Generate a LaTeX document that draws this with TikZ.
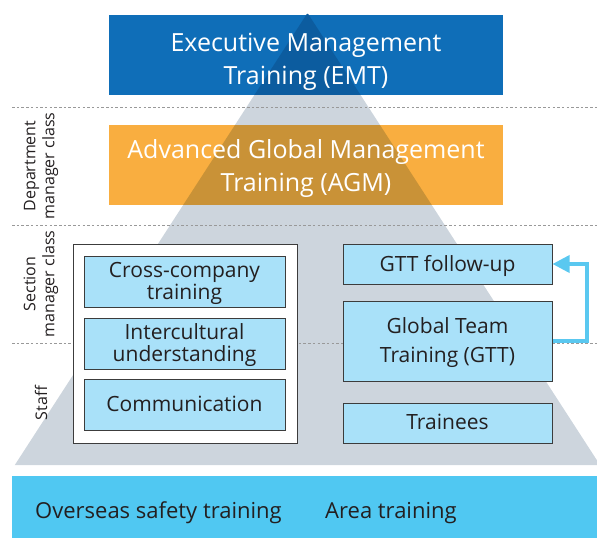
\documentclass[tikz,border=0pt]{standalone}
\usepackage{fontspec}
\setmainfont{Open Sans}
\usetikzlibrary{arrows.meta,positioning}

\begin{document}
\begin{tikzpicture}[x=1pt,y=-1pt,
	bigbox/.style={minimum width=394pt,minimum height=80pt,inner sep=0pt},
	bigtext/.style={text=white,align=center,font=\fontsize{25}{33}\selectfont},
	box/.style={draw=boxline,line width=1pt,fill=boxblue,text=textgray,align=center,
		minimum width=201pt,minimum height=51pt,inner sep=0pt,text depth=2pt,font=\fontsize{21}{22}\selectfont},
	rbox/.style={box,minimum width=209pt,minimum height=40pt},
	sidelabel/.style={rotate=90,align=center,text=textgray,font=\fontsize{16}{19}\selectfont},
	bandtext/.style={text=textgray,font=\fontsize{22}{25}\selectfont,anchor=base west,inner sep=0pt},
	levelline/.style={draw=gray!80,line width=1pt,dash pattern=on 2.5pt off 2.2pt},
	loopback/.style={draw=arrowblue,line width=3.5pt,-{Triangle[length=17pt,width=17pt]}}]
	\definecolor{emtblue}{HTML}{0F6EB8}
	\definecolor{emtdark}{HTML}{0C5C9F}
	\definecolor{agmorange}{HTML}{F9AE40}
	\definecolor{agmdark}{HTML}{C99237}
	\definecolor{pyramid}{HTML}{CDD5DD}
	\definecolor{boxblue}{HTML}{A9E1F9}
	\definecolor{boxline}{HTML}{3C3C3C}
	\definecolor{textgray}{HTML}{231F20}
	\definecolor{arrowblue}{HTML}{5AC8F0}
	\definecolor{bandblue}{HTML}{50C8F2}
	\useasboundingbox (0,0) rectangle (597,538);
	%% Pyramid ------
	\fill[pyramid] (307.5,13) -- (14.8,465) -- (600,465) -- cycle;
	\foreach \y in {107,225,343}
		\draw[levelline] (12,\y) -- (597,\y);
	%% Top courses ------
	\node[bigbox,fill=emtblue] (emt) at (306,54.5) {};
	\node[bigbox,fill=agmorange] (agm) at (306,165) {};
	\begin{scope}
		\clip (307.5,13) -- (14.8,465) -- (600,465) -- cycle;
		\fill[emtdark] (emt.north west) rectangle (emt.south east);
		\fill[agmdark] (agm.north west) rectangle (agm.south east);
	\end{scope}
	\node[bigtext] at ([yshift=-7pt]emt.center) {Executive Management\\Training (EMT)};
	\node[bigtext] at ([yshift=-4pt]agm.center) {Advanced Global Management\\Training (AGM)};
	%% Class labels ------
	\node[sidelabel] at (41,166) {Department\\manager class};
	\node[sidelabel] at (41,284) {Section\\manager class};
	\node[sidelabel] at (41,403) {Staff};
	%% Left group ------
	\node[draw=boxline,line width=1pt,fill=white,minimum width=224pt,minimum height=199pt] (group) at (185,343.5) {};
	\node[box] (cross) at (184.5,281.5) {Cross-company\\training};
	\node[box] (inter) at (184.5,343.5) {Intercultural\\understanding};
	\node[box] (comm) at (184.5,405) {Communication};
	%% Right column ------
	\node[rbox] (follow) at (447.5,264) {GTT follow-up};
	\node[rbox,minimum height=80pt,font=\fontsize{21}{29}\selectfont] (gtt) at (447.5,341) {Global Team\\Training (GTT)};
	\node[rbox] (trainees) at (447.5,423) {Trainees};
	\coordinate (turn) at (587,0);
	\draw[loopback] (gtt.east) -- (gtt.east -| turn) |- (follow.east);
	%% Bottom band ------
	\node[fill=bandblue,minimum width=585pt,minimum height=62pt,inner sep=0pt] (band) at (304.5,507) {};
	\node[bandtext] (safety) at (35,518) {Overseas safety training};
	\node[bandtext] (area) at (325,518) {Area training};
\end{tikzpicture}
\end{document}
